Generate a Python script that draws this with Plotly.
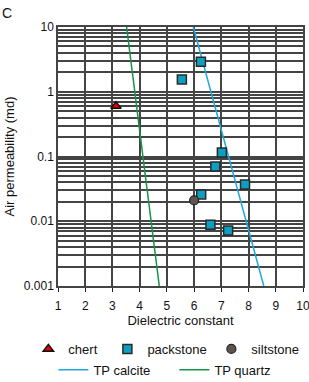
import plotly.graph_objects as go

# ---- data ----
chert_x = [3.13]
chert_y = [0.6]
pack_x = [6.25, 5.55, 7.02, 6.78, 7.87, 6.26, 6.60, 7.25]
pack_y = [2.9, 1.55, 0.115, 0.07, 0.037, 0.026, 0.0088, 0.0072]
silt_x = [6.0]
silt_y = [0.021]
calcite_x = [5.97, 8.56]
calcite_y = [10, 0.001]
quartz_x = [3.52, 4.72]
quartz_y = [10, 0.001]

x_ticks = [1, 2, 3, 4, 5, 6, 7, 8, 9, 10]
y_major = [0.001, 0.01, 0.1, 1, 10]
y_major_text = ["0.001", "0.01", "0.1", "1", "10"]

# all log gridline positions
y_grid = []
for p in [0.001, 0.01, 0.1, 1]:
    for m in range(1, 10):
        y_grid.append(round(p * m, 6))
y_grid.append(10)
y_text = []
for v in y_grid:
    if v in y_major:
        y_text.append(y_major_text[y_major.index(v)])
    else:
        y_text.append("")

FONT = "Liberation Sans, Arial, sans-serif"

fig = go.Figure()
fig.add_trace(go.Scatter(x=calcite_x, y=calcite_y, mode="lines", name="TP calcite",
                         line=dict(color="#1fa8d8", width=1.5), legend="legend4"))
fig.add_trace(go.Scatter(x=quartz_x, y=quartz_y, mode="lines", name="TP quartz",
                         line=dict(color="#14934a", width=1.5), legend="legend5"))
fig.add_trace(go.Scatter(x=chert_x, y=chert_y, mode="markers", name="chert",
                         marker=dict(symbol="triangle-up", size=9, color="#e00000",
                                     line=dict(color="#111", width=1.5)),
                         legend="legend"))
fig.add_trace(go.Scatter(x=pack_x, y=pack_y, mode="markers", name="packstone",
                         marker=dict(symbol="square", size=9, color="#0e9fc0",
                                     line=dict(color="#2a2a2a", width=1.5)),
                         legend="legend2"))
fig.add_trace(go.Scatter(x=silt_x, y=silt_y, mode="markers", name="siltstone",
                         marker=dict(symbol="circle", size=9, color="#5e534d",
                                     line=dict(color="#222", width=1.2)),
                         legend="legend3"))


def leg(x, y):
    return dict(orientation="h", x=x, xanchor="left", y=y, yanchor="middle",
                font=dict(size=13, family=FONT, color="#111"), itemwidth=30,
                bgcolor="rgba(0,0,0,0)")


ROW1 = -0.243
ROW2 = -0.324

fig.update_layout(
    width=309, height=382,
    margin=dict(l=58, r=6, t=27, b=96, autoexpand=False),
    paper_bgcolor="white", plot_bgcolor="white",
    font=dict(family=FONT, size=12, color="#111"),
    showlegend=True,
    legend=leg(-0.121, ROW1),
    legend2=leg(0.2016, ROW1),
    legend3=leg(0.626, ROW1),
    legend4=leg(-0.0188, ROW2),
    legend5=leg(0.475, ROW2),
    xaxis=dict(range=[1, 10], tickvals=x_ticks, ticktext=[str(t) for t in x_ticks],
               showgrid=True, gridcolor="#444", gridwidth=1.5,
               showline=True, linecolor="#444", linewidth=1.5, mirror=True,
               ticks="outside", ticklen=4, tickcolor="#222",
               ticklabelstandoff=4, automargin=False, ticklabeloverflow="allow",
               zeroline=False, tickfont=dict(size=12),
               title=dict(text="Dielectric constant", standoff=1,
                          font=dict(size=13))),
    yaxis=dict(type="log", range=[-3, 1], tickvals=y_grid, ticktext=y_text,
               showgrid=True, gridcolor="#444", gridwidth=1.5,
               showline=True, linecolor="#444", linewidth=1.5, mirror=True,
               ticks="", zeroline=False, tickfont=dict(size=12), automargin=False,
               ticklabeloverflow="allow",
               title=dict(text="Air permeability (md)", standoff=6,
                          font=dict(size=13))),
    annotations=[dict(text="C", x=0, y=1, xref="paper", yref="paper",
                      xshift=-58, yshift=14, xanchor="left", yanchor="middle",
                      showarrow=False, font=dict(size=14, family=FONT))],
)

fig.write_html("out.html")
